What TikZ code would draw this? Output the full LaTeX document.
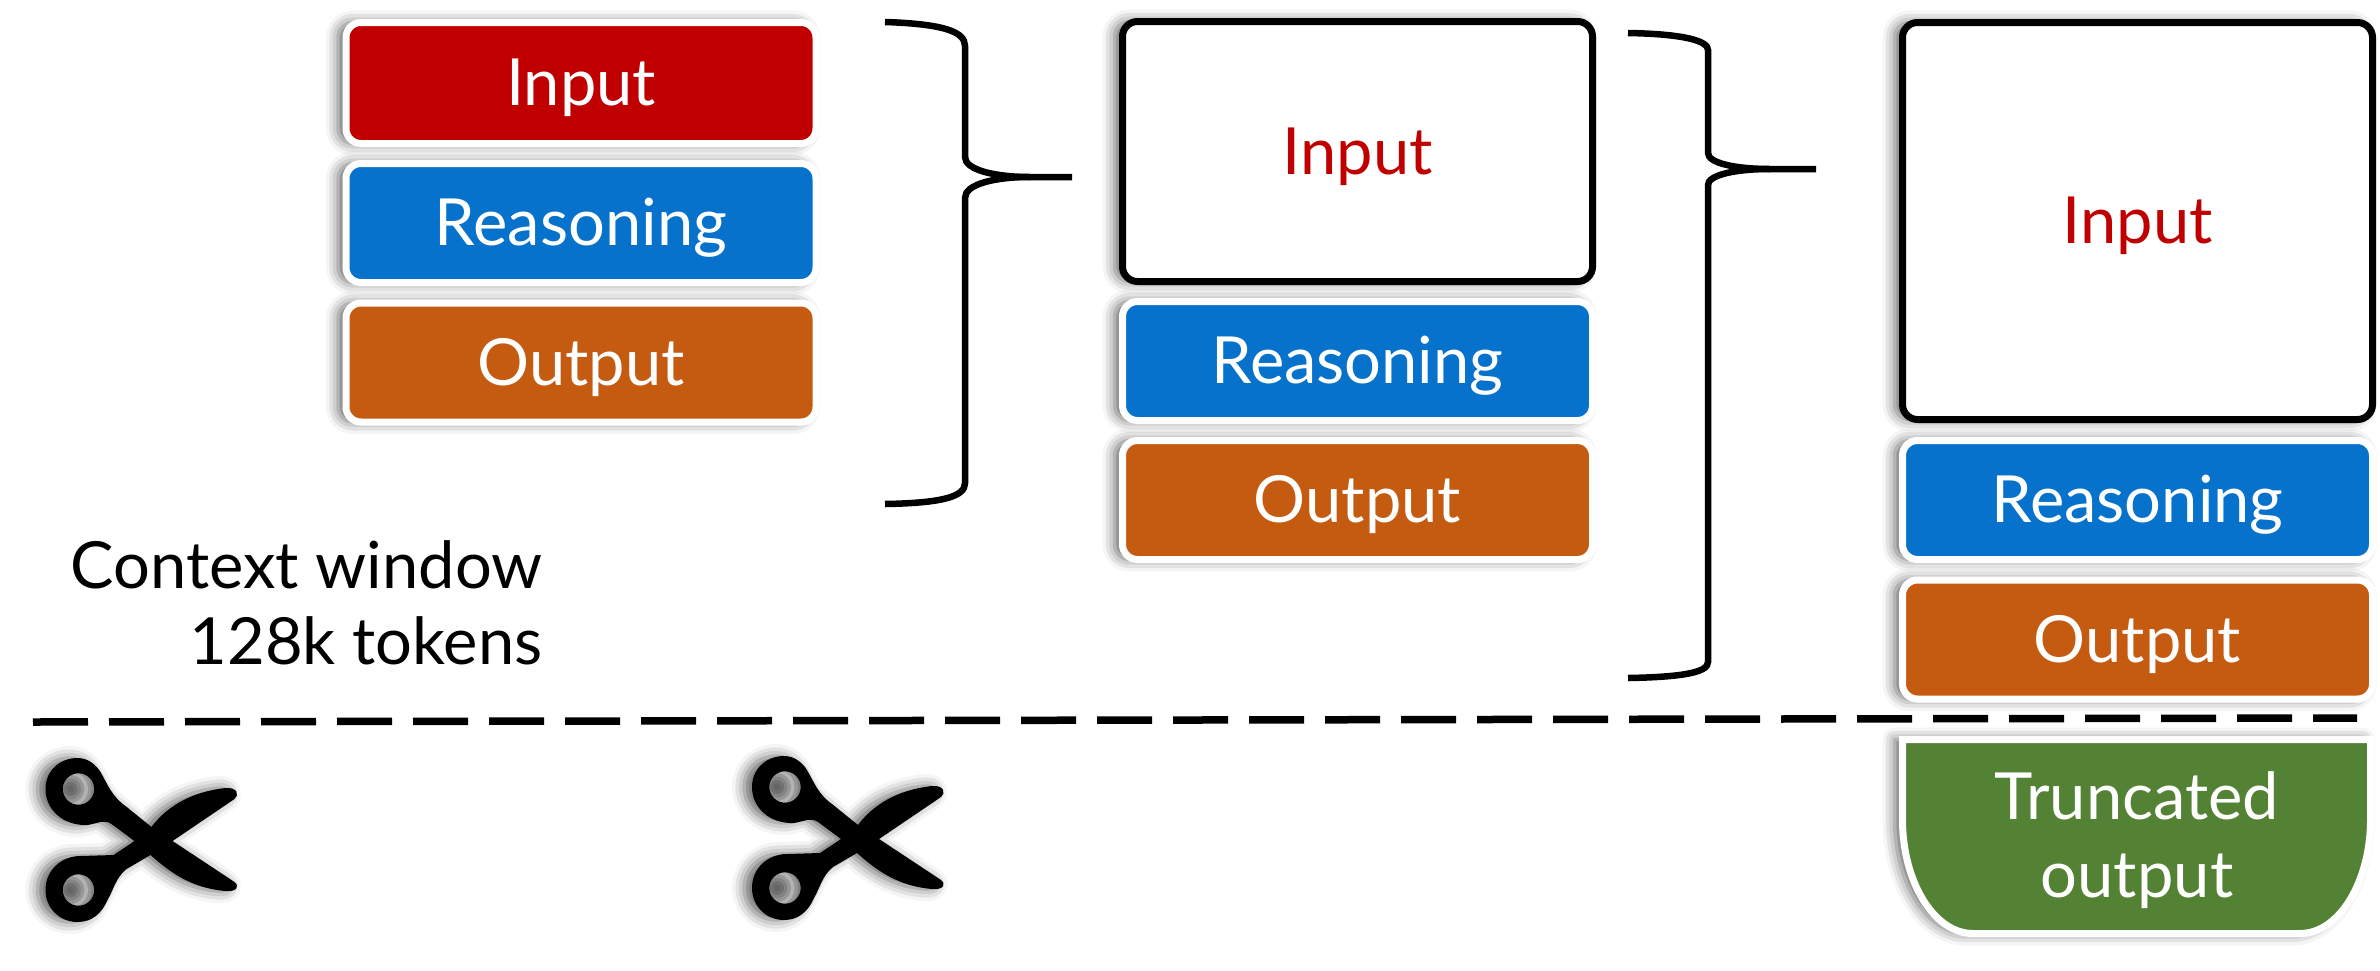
\documentclass[tikz,border=0pt]{standalone}
\usepackage{fontspec}
\setmainfont{Lato}
\usetikzlibrary{shadows.blur}
\definecolor{inputred}{HTML}{C00000}
\definecolor{reasonblue}{HTML}{0672CB}
\definecolor{outputorange}{HTML}{C55A11}
\definecolor{truncgreen}{HTML}{548235}
\tikzset{
softshadow/.style={blur shadow={shadow xshift=-8pt, shadow yshift=0pt, shadow blur radius=12pt, shadow opacity=60}},
boxtext/.style={font=\fontsize{65}{78}\selectfont, align=center},
tokenbox/.style={draw=white, line width=7pt, rounded corners=15pt, minimum width=470pt, minimum height=119pt, inner sep=0pt, text height=52pt, text depth=7pt, softshadow, text=white, boxtext},
inputbox/.style={tokenbox, fill=inputred},
reasonbox/.style={tokenbox, fill=reasonblue},
outputbox/.style={tokenbox, fill=outputorange},
framebox/.style={tokenbox, draw=black, fill=white, text=inputred},
bracket/.style={draw=black, line width=6.5pt},
cutline/.style={draw=black, line width=7.5pt, dash pattern=on 55pt off 21pt},
scissors/.pic={
\path[fill=black, even odd rule, softshadow] (-19,1) -- (-42,-16) .. controls (-50,-21) and (-54,-17) .. (-66,-15)
 .. controls (-90,-14) and (-108,-30) .. (-108,-51) .. controls (-108,-69) and (-94,-82) .. (-76,-82)
 .. controls (-66,-82) and (-58,-76) .. (-53,-68) .. controls (-46,-56) and (-42,-44) .. (-28,-34)
 -- (-2,-13) .. controls (12,-32) and (36,-48) .. (72,-52) .. controls (84,-53) and (86,-45) .. (81,-41)
 -- (19,1) -- (81,42) .. controls (86,46) and (84,52) .. (72,51) .. controls (36,48) and (14,30) .. (-3,15)
 -- (-27,29) .. controls (-38,38) and (-40,50) .. (-46,60) .. controls (-52,74) and (-62,82) .. (-76,82)
 .. controls (-94,82) and (-108,68) .. (-108,50) .. controls (-108,30) and (-92,16) .. (-73,16)
 -- (-40,15) -- cycle
 (-75,-51) circle [radius=15.7] (-75,50) circle [radius=15.7];
}
}
\begin{document}
\begin{tikzpicture}[x=1pt,y=-1pt]
\useasboundingbox (0,0) rectangle (2380,970);
% first column
\node[inputbox, minimum height=121pt] (inp1) at (581,83){Input};
\node[reasonbox] (rsn1) at (581,223){Reasoning};
\node[outputbox] (out1) at (581,362.5){Output};
% second column
\node[framebox, minimum height=260pt] (inp2) at (1357.5,151.5){Input};
\node[reasonbox] (rsn2) at (1357.5,361){Reasoning};
\node[outputbox] (out2) at (1357.5,500){Output};
% third column
\node[framebox, minimum height=397pt] (inp3) at (2137.5,221){Input};
\node[reasonbox] (rsn3) at (2137.5,500){Reasoning};
\node[outputbox] (out3) at (2137.5,639.5){Output};
% truncated part
\path[draw=white, line width=7pt, fill=truncgreen, softshadow] (1902.5,739.5) -- (2370.5,739.5) -- (2370.5,820)
 .. controls (2370.5,880) and (2340,933.5) .. (2300,933.5) -- (1973,933.5) .. controls (1933,933.5) and (1902.5,880) .. (1902.5,820) -- cycle;
\node[boxtext, text=white] (trunc) at (2137,840){Truncated\\output};
% context label
\node[font=\fontsize{65}{76}\selectfont, align=right, anchor=east] (ctx) at (546,603){Context window\\128k tokens};
% first brace
\coordinate (bra) at (885,22);
\coordinate (brb) at (965,46);
\coordinate (brc) at (965,157);
\coordinate (brd) at (1030,177);
\coordinate (bre) at (1072,177);
\coordinate (brf) at (965,198);
\coordinate (brg) at (965,483);
\coordinate (brh) at (885,504);
\draw[bracket] (bra) .. controls (945,24) and (965,32) .. (brb) -- (brc) .. controls (965,170) and (995,177) .. (brd) -- (bre);
\draw[bracket] (brd) .. controls (995,177) and (965,184) .. (brf) -- (brg) .. controls (965,496) and (945,503) .. (brh);
% second brace
\coordinate (bsa) at (1628,33);
\coordinate (bsb) at (1708,50);
\coordinate (bsc) at (1708,153);
\coordinate (bsd) at (1770,169);
\coordinate (bse) at (1816,169);
\coordinate (bsf) at (1708,185);
\coordinate (bsg) at (1708,662);
\coordinate (bsh) at (1628,678);
\draw[bracket] (bsa) .. controls (1685,34) and (1708,41) .. (bsb) -- (bsc) .. controls (1708,163) and (1735,169) .. (bsd) -- (bse);
\draw[bracket] (bsd) .. controls (1735,169) and (1708,175) .. (bsf) -- (bsg) .. controls (1708,672) and (1685,677) .. (bsh);
% cut line
\coordinate (cuta) at (33,722);
\coordinate (cutb) at (2357,718);
\draw[cutline] (cuta) -- (cutb);
\pic (cut1) at (153.5,840) {scissors};
\pic (cut2) at (860,838) {scissors};
\end{tikzpicture}
\end{document}
